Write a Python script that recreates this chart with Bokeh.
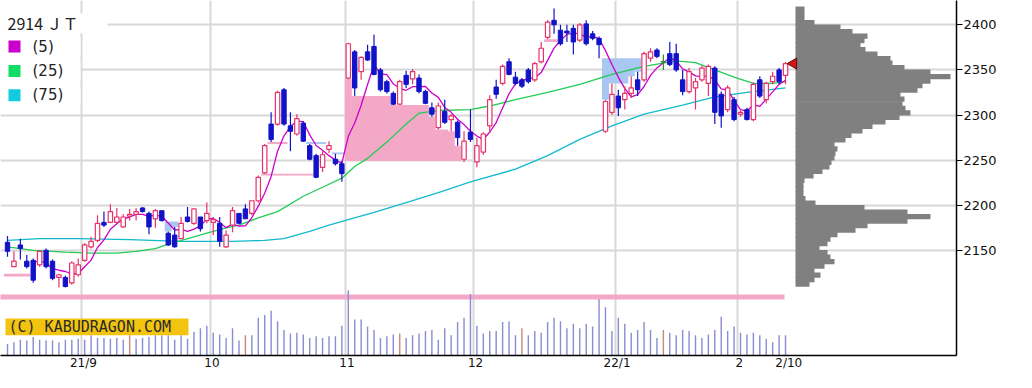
import math
from bokeh.plotting import figure
from bokeh.models import Range1d, FixedTicker, CustomJSTickFormatter
from bokeh.core.properties import value
from bokeh.embed import file_html
from bokeh.resources import INLINE

# ---------------- data ----------------
ticker_name = "2914 ＪＴ"
ma_labels = ["(5)", "(25)", "(75)"]
watermark = "(C) KABUDRAGON.COM"

opens = [2159, 2132, 2156, 2138, 2139, 2134, 2150, 2138, 2120, 2120,
         2114, 2123, 2139, 2154, 2161, 2181, 2181, 2181, 2176, 2188,
         2190, 2197, 2191, 2185, 2194, 2169, 2167, 2163, 2187, 2180,
         2187, 2183, 2181, 2180, 2154, 2178, 2191, 2196, 2191, 2205,
         2236, 2290, 2290, 2328, 2288, 2279, 2291, 2266, 2255, 2242,
         2262, 2251, 2246, 2341, 2370, 2348, 2370, 2376, 2350, 2337,
         2324, 2312, 2344, 2340, 2341, 2326, 2308, 2286, 2304, 2295,
         2292, 2251, 2281, 2248, 2259, 2288, 2331, 2335, 2359, 2342,
         2339, 2350, 2339, 2359, 2386, 2405, 2394, 2393, 2396, 2383,
         2401, 2390, 2385, 2282, 2303, 2321, 2317, 2324, 2339, 2339,
         2363, 2372, 2359, 2368, 2368, 2339, 2326, 2330, 2339, 2335,
         2352, 2323, 2306, 2317, 2301, 2306, 2295, 2339, 2317, 2337,
         2350, 2344]
highs = [2166, 2149, 2163, 2145, 2141, 2150, 2152, 2140, 2124, 2122,
         2138, 2141, 2158, 2165, 2189, 2193, 2201, 2197, 2190, 2196,
         2197, 2198, 2193, 2196, 2194, 2171, 2176, 2187, 2198, 2196,
         2187, 2203, 2187, 2187, 2172, 2198, 2191, 2201, 2205, 2233,
         2268, 2303, 2327, 2330, 2303, 2301, 2293, 2268, 2257, 2260,
         2271, 2257, 2249, 2380, 2372, 2365, 2378, 2389, 2352, 2339,
         2326, 2339, 2349, 2351, 2345, 2328, 2314, 2314, 2317, 2301,
         2294, 2282, 2306, 2275, 2281, 2322, 2339, 2356, 2363, 2348,
         2341, 2352, 2359, 2381, 2405, 2418, 2400, 2400, 2400, 2402,
         2405, 2393, 2387, 2317, 2335, 2328, 2332, 2343, 2348, 2370,
         2374, 2374, 2367, 2381, 2379, 2350, 2352, 2341, 2355, 2356,
         2354, 2326, 2333, 2320, 2305, 2308, 2336, 2343, 2337, 2348,
         2352, 2359]
lows = [2143, 2132, 2140, 2130, 2114, 2132, 2130, 2117, 2109, 2109,
        2112, 2121, 2137, 2152, 2159, 2176, 2180, 2180, 2175, 2183,
        2183, 2192, 2168, 2175, 2182, 2155, 2153, 2163, 2181, 2178,
        2171, 2180, 2167, 2154, 2153, 2170, 2179, 2185, 2189, 2203,
        2235, 2270, 2288, 2288, 2260, 2277, 2270, 2250, 2230, 2237,
        2258, 2244, 2226, 2340, 2321, 2339, 2360, 2344, 2326, 2324,
        2311, 2311, 2330, 2334, 2324, 2312, 2298, 2284, 2290, 2282,
        2266, 2248, 2270, 2242, 2256, 2280, 2318, 2333, 2344, 2333,
        2330, 2335, 2337, 2357, 2384, 2390, 2377, 2381, 2367, 2381,
        2377, 2383, 2363, 2280, 2300, 2299, 2306, 2319, 2321, 2337,
        2359, 2363, 2350, 2354, 2348, 2322, 2324, 2306, 2337, 2321,
        2290, 2286, 2303, 2293, 2298, 2294, 2293, 2319, 2313, 2334,
        2334, 2334]
closes = [2149, 2138, 2152, 2132, 2117, 2149, 2132, 2119, 2123, 2110,
          2136, 2134, 2156, 2160, 2180, 2178, 2193, 2187, 2187, 2190,
          2193, 2193, 2176, 2194, 2183, 2156, 2154, 2180, 2182, 2196,
          2174, 2191, 2184, 2160, 2167, 2194, 2180, 2185, 2205, 2231,
          2266, 2273, 2325, 2290, 2282, 2296, 2271, 2251, 2231, 2256,
          2266, 2246, 2235, 2379, 2330, 2364, 2361, 2345, 2328, 2326,
          2312, 2337, 2334, 2348, 2326, 2313, 2301, 2310, 2292, 2299,
          2275, 2271, 2273, 2266, 2279, 2317, 2323, 2354, 2345, 2335,
          2332, 2337, 2357, 2374, 2403, 2400, 2379, 2391, 2381, 2400,
          2379, 2385, 2378, 2315, 2323, 2308, 2324, 2330, 2328, 2368,
          2370, 2365, 2359, 2356, 2350, 2326, 2348, 2337, 2352, 2354,
          2303, 2299, 2330, 2295, 2303, 2295, 2334, 2321, 2335, 2343,
          2337, 2357]
volume = [13, 15, 18, 17, 21, 18, 17, 17, 15, 18,
          18, 19, 18, 23, 20, 20, 19, 20, 18, 23,
          19, 20, 21, 23, 23, 23, 18, 23, 19, 27,
          31, 34, 26, 24, 20, 31, 17, 23, 23, 43,
          46, 51, 39, 29, 25, 26, 24, 20, 22, 20,
          22, 22, 34, 74, 41, 41, 33, 29, 20, 22,
          24, 25, 20, 23, 25, 28, 29, 18, 31, 23,
          38, 43, 70, 34, 25, 28, 28, 38, 39, 23,
          31, 23, 28, 26, 38, 43, 39, 31, 36, 31,
          36, 33, 64, 55, 28, 43, 36, 26, 29, 38,
          29, 20, 29, 26, 23, 29, 28, 23, 20, 24,
          29, 44, 28, 33, 26, 24, 26, 23, 19, 15,
          23, 23]
sq_days = [19, 37, 61, 80, 102]          # option SQ days (brown volume bars)

month_labels = ["21/9", "10", "11", "12", "22/1", "2"]
month_first_idx = [12, 32, 53, 73, 95, 114]
last_label = "2/10"

ma25_idx = [0, 4, 9, 13, 17, 20, 23, 25, 29, 31, 34, 36, 39, 42, 46, 49, 52, 54, 56, 59,
            62, 64, 67, 72, 75, 79, 84, 89, 94, 99, 104, 107, 110, 113, 116, 119, 121]
ma25_val = [2154, 2150, 2148, 2147, 2147, 2149, 2152, 2157, 2165, 2169, 2175, 2178, 2186, 2193,
            2210, 2220, 2230, 2243, 2252, 2270, 2290, 2302, 2305, 2306, 2310, 2317, 2325, 2334,
            2345, 2354, 2360, 2358, 2350, 2342, 2335, 2335, 2337]
ma75_idx = [0, 5, 11, 19, 27, 35, 40, 43, 47, 50, 53, 57, 62, 67, 72, 79, 84, 89, 94, 99,
            105, 110, 115, 121]
ma75_val = [2161, 2163, 2163, 2162, 2160, 2160, 2161, 2163, 2171, 2178, 2184, 2192, 2203, 2214,
            2226, 2240, 2255, 2273, 2288, 2301, 2311, 2320, 2325, 2330]

prior_gap = ("up", 2121, 2124)           # unfilled gap carried in from before the chart

prof_lo = list(range(2110, 2420, 5))      # price-by-volume bins (lower edges, 5 yen)
prof_vol = [14, 19, 25, 19, 29, 39, 35, 32, 24, 32, 35, 42, 60, 72, 112, 135, 112, 69,
            20, 10, 8, 8, 8, 9, 18, 27, 34, 36, 39, 40, 42, 39, 50, 56, 67, 77, 90, 104,
            115, 110, 107, 109, 105, 122, 127, 135, 155, 135, 109, 97, 95, 82, 70, 65, 69, 72, 57, 45,
            19, 9, 9, 9]
price_ticks = [2150, 2200, 2250, 2300, 2350, 2400]

# ---------------- styles ----------------
UP, DN, DOJI = "#e6336a", "#1212c8", "#2e8b2e"
C5, C25, C75 = "#cc00cc", "#22cc55", "#11bbcc"
GAP_UP, GAP_DN = "#f4a8c8", "#a8c8f2"
VOL, VOL_SQ = "#8c8cd2", "#c98a7c"
GRID = "#d8d8d8"
PROF = "#808080"

# geometry of the original picture (pixels), used only for placement
W, H = 1016, 372
FRAME_R, FRAME_B = 956, 358
X0_PX, DX_PX = 7.0, 6.43
Y2400_PX, PX_PER_YEN = 24.5, 0.91
VOL_PX = 0.886                    # pixels per volume unit
def ix(px): return (px - X0_PX) / DX_PX
def pv(py): return 2400 - (py - Y2400_PX) / PX_PER_YEN
def vu(py): return 366 - py       # lower panel position -> volume units

n = len(closes)
idx = list(range(n))

p = figure(width=W, height=H, x_range=Range1d(ix(0), ix(FRAME_R)),
           y_range=Range1d(pv(FRAME_B), pv(0)), y_axis_location="right",
           toolbar_location=None, output_backend="svg",
           min_border_left=0, min_border_top=0, min_border_right=W - FRAME_R,
           min_border_bottom=H - FRAME_B,
           background_fill_color="white", border_fill_color="white", outline_line_color=None)
p.extra_y_ranges = {"vol": Range1d(0, FRAME_B / VOL_PX)}

# grid
p.ygrid.ticker = FixedTicker(ticks=price_ticks)
p.xgrid.ticker = FixedTicker(ticks=[m - 0.5 for m in month_first_idx])
for g in (p.xgrid, p.ygrid):
    g.grid_line_color = GRID
    g.grid_line_width = 2

# axes
p.yaxis.ticker = FixedTicker(ticks=price_ticks)
p.yaxis.major_tick_in = 0
p.yaxis.major_tick_out = 6
p.yaxis.minor_tick_line_color = None
p.yaxis.major_label_standoff = 1
p.yaxis.major_label_text_font = "DejaVu Sans"
p.yaxis.major_label_text_font_size = "13px"
p.yaxis.major_label_text_color = "#111111"
p.yaxis.axis_line_color = "black"
p.yaxis.axis_line_width = 1.5
p.yaxis.major_tick_line_color = "black"

label_pos = [m - 0.5 + 0.3 for m in month_first_idx] + [n - 0.5]
p.xaxis.ticker = FixedTicker(ticks=label_pos)
p.xaxis.formatter = CustomJSTickFormatter(
    args=dict(pos=label_pos, labels=month_labels + [last_label]),
    code="const k = pos.findIndex(q => Math.abs(q - tick) < 1e-6); return k >= 0 ? labels[k] : '';")
p.xaxis.major_tick_line_color = None
p.xaxis.minor_tick_line_color = None
p.xaxis.major_tick_out = 0
p.xaxis.major_tick_in = 0
p.xaxis.major_label_standoff = 0
p.xaxis.major_label_text_align = "left"
p.xaxis.major_label_text_font = "DejaVu Sans"
p.xaxis.major_label_text_font_size = "12px"
p.xaxis.major_label_text_color = "#111111"
p.xaxis.axis_line_color = "black"
p.xaxis.axis_line_width = 1.5

# pink period band
p.quad(left=[ix(-5)], right=[ix(784)], bottom=[vu(302.3)], top=[vu(296.7)],
       fill_color=GAP_UP, line_color=None, y_range_name="vol")

# price gaps (windows) computed from the candles
gl, gr, gb, gt, gc = [], [], [], [], []
open_gaps = [{"kind": prior_gap[0], "lo": prior_gap[1], "hi": prior_gap[2]}]
for j in idx:
    if j > 0 and lows[j] > highs[j - 1]:
        open_gaps.append({"kind": "up", "lo": highs[j - 1], "hi": lows[j]})
    if j > 0 and highs[j] < lows[j - 1]:
        open_gaps.append({"kind": "dn", "lo": highs[j], "hi": lows[j - 1]})
    still = []
    for g in open_gaps:
        if g["kind"] == "up":
            g["hi"] = min(g["hi"], lows[j])
        else:
            g["lo"] = max(g["lo"], highs[j])
        if g["hi"] <= g["lo"]:
            continue
        mid = (g["lo"] + g["hi"]) / 2
        half = max((g["hi"] - g["lo"]) / 2, 0.9)
        gl.append(j - 0.55); gr.append(j + 0.55)
        gb.append(mid - half); gt.append(mid + half)
        gc.append(GAP_UP if g["kind"] == "up" else GAP_DN)
        still.append(g)
    open_gaps = still
p.quad(left=gl, right=gr, bottom=gb, top=gt, fill_color=gc, line_color=None)

# volume
p.vbar(x=idx, top=volume, bottom=0, width=0.22, y_range_name="vol",
       fill_color=[VOL_SQ if i in sq_days else VOL for i in idx], line_color=None)

# watermark
p.quad(left=[ix(5)], right=[ix(188)], bottom=[vu(343)], top=[vu(324)],
       fill_color="#f2c40f", line_color=None, y_range_name="vol")
p.text(x=[ix(8)], y=[vu(333.5)], text=[watermark], y_range_name="vol",
       text_font=value("DejaVu Sans Mono"), text_font_size=value("15px"),
       text_baseline="middle", text_align="left", text_color="#2a2a2a")

# moving averages
ma5_x, ma5_y = [], []
for i in range(4, n):
    ma5_x.append(i)
    ma5_y.append(sum(closes[i - 4:i + 1]) / 5)
p.line(ma75_idx, ma75_val, line_color=C75, line_width=1.3)
p.line(ma25_idx, ma25_val, line_color=C25, line_width=1.3)
p.line(ma5_x, ma5_y, line_color=C5, line_width=1.3)

# candles
wick_col = [UP if closes[i] > opens[i] else (DN if closes[i] < opens[i] else DOJI) for i in idx]
p.segment(x0=idx, y0=lows, x1=idx, y1=highs, line_color=wick_col, line_width=1.2)
up = [i for i in idx if closes[i] > opens[i]]
dn = [i for i in idx if closes[i] < opens[i]]
dj = [i for i in idx if closes[i] == opens[i]]
p.vbar(x=up, bottom=[opens[i] for i in up], top=[closes[i] for i in up], width=0.68,
       fill_color="white", line_color=UP, line_width=1.2)
p.vbar(x=dn, top=[opens[i] for i in dn], bottom=[closes[i] for i in dn], width=0.68,
       fill_color=DN, line_color=DN, line_width=1)
p.segment(x0=[i - 0.4 for i in dj], x1=[i + 0.4 for i in dj], y0=[closes[i] for i in dj],
          y1=[closes[i] for i in dj], line_color=DOJI, line_width=1.5)

# price-by-volume profile (bins overlap slightly so no seams show)
base = ix(795)
p.quad(left=[base] * len(prof_lo), right=[base + v / DX_PX for v in prof_vol],
       bottom=[lo - 0.4 for lo in prof_lo], top=[lo + 5.4 for lo in prof_lo],
       fill_color=PROF, line_color=None)

# last price marker
p.scatter(x=[ix(793)], y=[closes[-1]], marker="triangle", angle=math.pi / 2, size=11,
          fill_color="#dd1111", line_color="#551111", line_width=1)

# legend
p.quad(left=[ix(0)], right=[ix(107)], bottom=[pv(33)], top=[pv(13)], fill_color="white", line_color=None)
p.text(x=[ix(7)], y=[pv(22.5)], text=[ticker_name], text_font=value("Noto Sans CJK JP"),
       text_font_size=value("16px"), text_baseline="middle", text_align="left", text_color="#222222")
rows_y = [46.5, 71, 95.5]
p.quad(left=[ix(0)] * 3, right=[ix(80)] * 3, bottom=[pv(y + 9) for y in rows_y],
       top=[pv(y - 9) for y in rows_y], fill_color="white", line_color=None)
p.scatter(x=[ix(14)] * 3, y=[pv(y) for y in rows_y], marker="square", size=12,
          fill_color=[C5, "#11dd66", "#11ccdd"], line_color=None)
p.text(x=[ix(32)] * 3, y=[pv(y) for y in rows_y], text=ma_labels, text_font=value("DejaVu Sans"),
       text_font_size=value("15px"), text_baseline="middle", text_align="left", text_color="#222222")

with open("out.html", "w", encoding="utf-8") as f:
    f.write(file_html(p, INLINE))
